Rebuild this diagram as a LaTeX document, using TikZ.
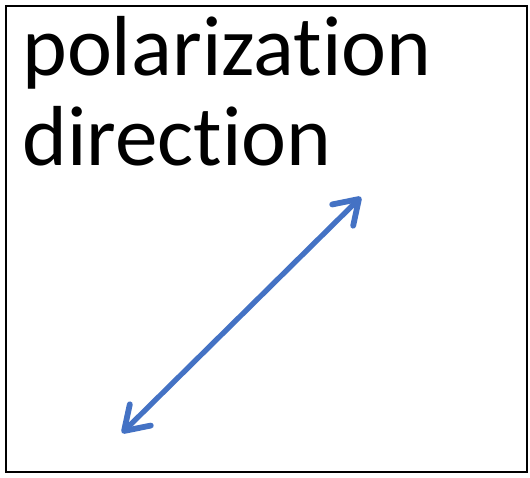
\documentclass[tikz,border=0pt]{standalone}
\usepackage{fontspec}
\setmainfont{Carlito}[Ligatures=NoCommon]
\usetikzlibrary{arrows.meta, positioning}
\definecolor{polblue}{HTML}{4472C4}

\begin{document}
\begin{tikzpicture}[
  x=0.02cm, y=-0.02cm,
  frame/.style={draw, line width=1.3pt},
  title/.style={font=\fontsize{48.5}{51.2}\selectfont, align=left, inner sep=0pt},
  polarrow/.style={{Straight Barb[length=13pt, width=17pt, line width=3.3pt, round]}-{Straight Barb[length=13pt, width=17pt, line width=3.3pt, round]},
                   line width=3pt, draw=polblue, line cap=round}
]
  \useasboundingbox (0,0) rectangle (530,477);
  \draw[frame] (6,6) rectangle (527,472);
  \node[title, anchor=base west] (label) at (22,165) {polarization\\direction};
  \coordinate (lowtip) at (122,433);
  \coordinate (hightip) at (361,197);
  \draw[polarrow] (lowtip) -- (hightip);
\end{tikzpicture}
\end{document}
